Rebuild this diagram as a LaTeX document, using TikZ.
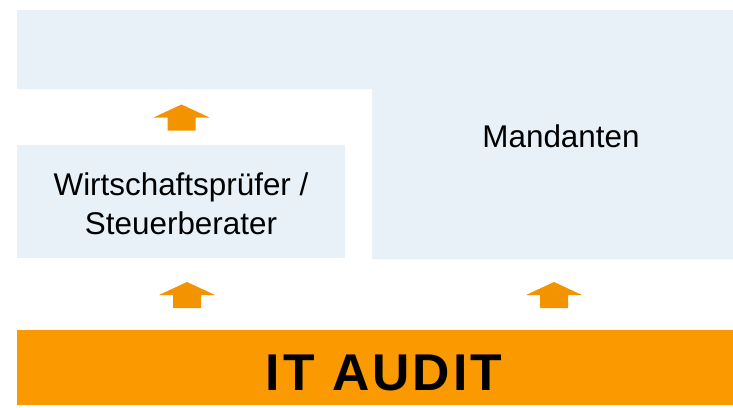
\documentclass[tikz,border=0pt]{standalone}
\usepackage{fontspec}
\usepackage{xcolor}
\setmainfont{Liberation Sans}
\newfontfamily\auditfont{Liberation Sans}[LetterSpace=6]
\usetikzlibrary{calc, positioning}

\definecolor{paleblue}{HTML}{E8F0F8}
\definecolor{auditorange}{HTML}{FB9A00}
\definecolor{arroworange}{HTML}{F49300}

\tikzset{
    bluebox/.style={fill=paleblue, inner sep=0pt},
    boxtext/.style={font=\fontsize{31.4}{39}\selectfont, align=center, inner sep=0pt},
    uparrow/.pic={
        \fill[arroworange] (-14,0) -- (-14,-13) -- (-28,-13) -- (0,-26)
            -- (28,-13) -- (14,-13) -- (14,0) -- cycle;
    }
}

\begin{document}
\begin{tikzpicture}[x=1pt, y=-1pt]
        \useasboundingbox (0,0) rectangle (733,407);

        % client area (L-shaped)
        \fill[paleblue] (17,10) -| (733,259) -| (372,89) -| cycle;
        \node[boxtext] (mandanten) at (561,136) {Mandanten};

        % auditors / tax advisers
        \node[bluebox, minimum width=328pt, minimum height=113pt] (pruefer) at (181,201.5) {};
        \node[boxtext] (pruefertext) at (181,203.5) {Wirtschaftsprüfer /\\Steuerberater};

        % base
        \node[fill=auditorange, minimum width=716pt, minimum height=75pt, inner sep=0pt] (audit) at (375,367.5) {};
        \node[inner sep=0pt, font=\auditfont\bfseries\fontsize{51.7}{60}\selectfont] (audittext) at (384,373) {IT AUDIT};

        % arrows
        \pic at (181.5,130.5) {uparrow};
        \pic at (187,308) {uparrow};
        \pic at (554,308) {uparrow};
    \end{tikzpicture}
\end{document}
